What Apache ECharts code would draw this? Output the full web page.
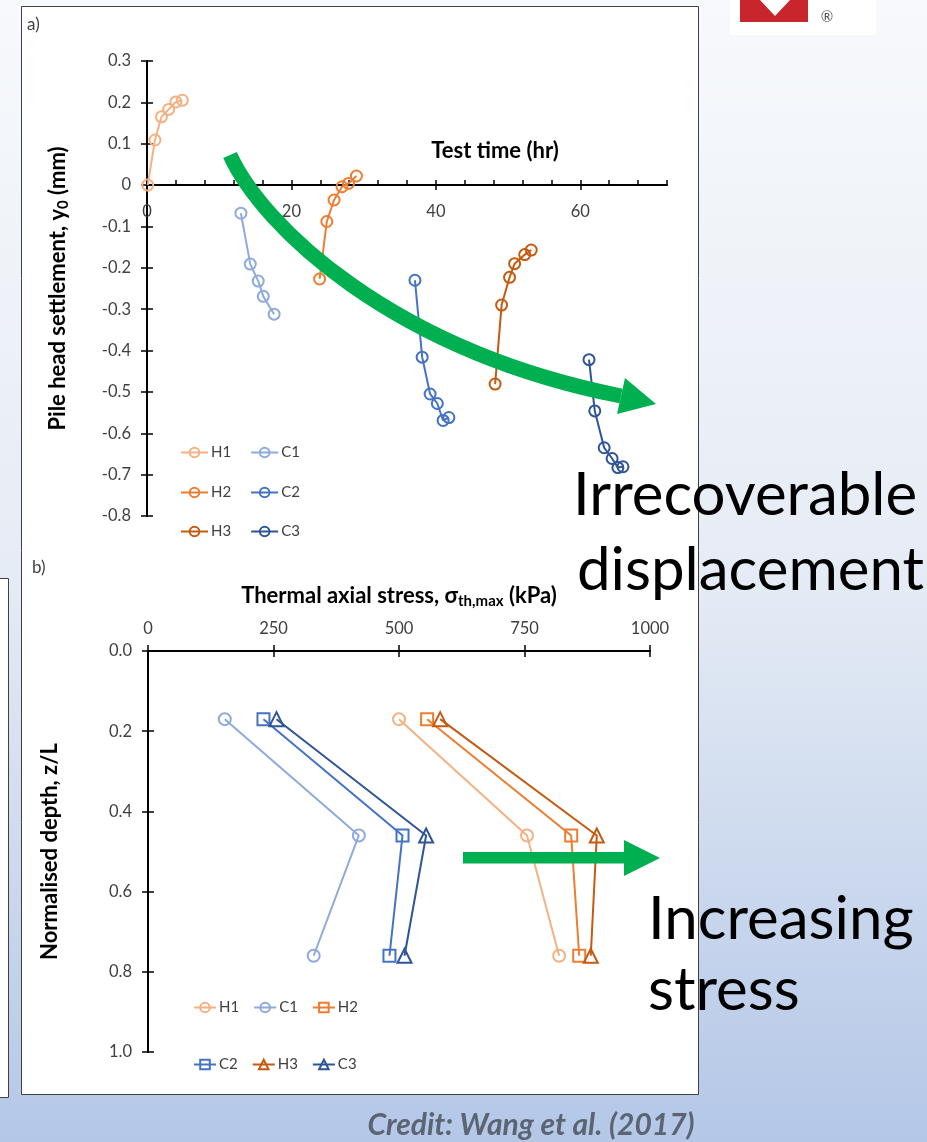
<!DOCTYPE html>
<html>
<head>
<meta charset="utf-8">
<script src="https://cdn.jsdelivr.net/npm/echarts@6/dist/echarts.min.js"></script>
<style>
html, body { margin: 0; padding: 0; }
#chart { width: 927px; height: 1142px; }
</style>
</head>
<body>
<div id="chart"></div>
<script>
// a) pile head settlement against test time
var h1Time = [0.1, 1.1, 2.0, 3.0, 4.0, 4.9];
var h1Settle = [0, 0.109, 0.165, 0.183, 0.201, 0.205];
var c1Time = [13.0, 14.3, 15.4, 16.1, 17.6];
var c1Settle = [-0.068, -0.191, -0.232, -0.269, -0.312];
var h2Time = [23.9, 24.9, 25.9, 27.0, 27.9, 29.0];
var h2Settle = [-0.227, -0.088, -0.036, -0.004, 0.004, 0.022];
var c2Time = [37.1, 38.1, 39.2, 40.2, 41.0, 41.8];
var c2Settle = [-0.23, -0.416, -0.505, -0.528, -0.569, -0.562];
var h3Time = [48.2, 49.1, 50.2, 50.9, 52.3, 53.2];
var h3Settle = [-0.481, -0.29, -0.223, -0.19, -0.168, -0.157];
var c3Time = [61.2, 62.0, 63.3, 64.4, 65.2, 65.9];
var c3Settle = [-0.422, -0.546, -0.635, -0.661, -0.683, -0.681];
var timeTicks = [0, 20, 40, 60];
var timeMinorTicks = [0, 4, 8, 12, 16, 20, 24, 28, 32, 36, 40, 44, 48, 52, 56, 60, 64, 68, 72];
var settleTicks = [-0.8, -0.7, -0.6, -0.5, -0.4, -0.3, -0.2, -0.1, 0, 0.1, 0.2, 0.3];

// b) thermal axial stress against normalised depth
var depth = [0.17, 0.46, 0.76];
var h1Stress = [500, 755, 819];
var c1Stress = [153, 420, 330];
var h2Stress = [556, 843, 859];
var c2Stress = [230, 507, 481];
var h3Stress = [582, 894, 882];
var c3Stress = [256, 554, 511];
var stressTicks = [0, 250, 500, 750, 1000];
var depthTicks = [0, 0.2, 0.4, 0.6, 0.8, 1.0];

var colH1 = '#F4B183', colC1 = '#8FAADC', colH2 = '#ED7D31',
    colC2 = '#4472C4', colH3 = '#C55A11', colC3 = '#2F5597';
var FONT = 'Lato';
var GREEN = '#00B050';

function zip(xs, ys){
    return xs.map(function(x, i){ return [x, ys[i]]; });
}
function line(name, xs, ys, color, symbol, size, grid){
    return {
        name: name,
        type: 'line',
        xAxisIndex: grid * 2,
        yAxisIndex: grid * 2,
        data: zip(xs, ys),
        symbol: symbol,
        symbolSize: size,
        lineStyle: { color: color, width: 2 },
        itemStyle: { color: 'rgba(255,255,255,0)', borderColor: color, borderWidth: 2 },
        emphasis: { disabled: true },
        z: 3
    };
}
function legend(items, left, top, w, gap){
    return {
        data: items,
        left: left, top: top,
        orient: 'horizontal',
        padding: 0,
        itemWidth: w, itemHeight: 12, itemGap: gap,
        selectedMode: false,
        formatter: function(n){ return n.slice(1); },
        textStyle: { fontFamily: FONT, fontSize: 15, color: '#404040', padding: [0, 0, 0, -2] }
    };
}
var tickStyle = { color: '#000', width: 1.5 };
var labelStyle = { fontFamily: FONT, fontSize: 16.5, color: '#404040' };
var nameStyle = {
    rich: {
        b: { fontFamily: FONT, fontSize: 22, fontWeight: 'bold', color: '#000', lineHeight: 26 },
        s: { fontFamily: FONT, fontSize: 15, fontWeight: 'bold', color: '#000', lineHeight: 26, verticalAlign: 'bottom' }
    }
};
function plain(v){ return String(v); }

var chart = echarts.init(document.getElementById('chart'));
chart.setOption({
    animation: false,
    backgroundColor: {
        type: 'linear', x: 0, y: 0, x2: 0, y2: 1,
        colorStops: [
            { offset: 0, color: '#F7F9FC' },
            { offset: 0.5, color: '#E6ECF5' },
            { offset: 1, color: '#B4C7E7' }
        ]
    },
    grid: [
        { left: 147, top: 61, width: 520, height: 455, outerBoundsMode: 'none' },
        { left: 148, top: 651, width: 502, height: 401, outerBoundsMode: 'none' }
    ],
    xAxis: [
        // time axis sits on the y = 0 line
        { gridIndex: 0, type: 'value', min: 0, max: 72, position: 'bottom', offset: -331,
          axisLine: { show: true, onZero: false, lineStyle: { color: '#000', width: 2 } },
          axisTick: { show: true, inside: false, length: 5, lineStyle: tickStyle, customValues: timeTicks },
          axisLabel: Object.assign({ margin: 18, customValues: timeTicks, formatter: plain }, labelStyle),
          splitLine: { show: false } },
        { gridIndex: 0, type: 'value', min: 0, max: 72, position: 'bottom', offset: -331,
          axisLine: { show: false, onZero: false },
          axisTick: { show: true, inside: true, length: 5, lineStyle: tickStyle, customValues: timeMinorTicks },
          axisLabel: { show: false }, splitLine: { show: false } },
        { gridIndex: 1, type: 'value', min: 0, max: 1000, position: 'top',
          name: '{b|Thermal axial stress, σ}{s|th,max}{b| (kPa)}',
          nameLocation: 'middle', nameGap: 42, nameTextStyle: nameStyle,
          axisLine: { show: true, onZero: false, lineStyle: { color: '#000', width: 2 } },
          axisTick: { show: true, inside: false, length: 6, lineStyle: tickStyle, customValues: stressTicks },
          axisLabel: Object.assign({ margin: 14, customValues: stressTicks, formatter: plain }, labelStyle),
          splitLine: { show: false } },
        { gridIndex: 1, type: 'value', min: 0, max: 1000, position: 'top',
          axisLine: { show: false, onZero: false },
          axisTick: { show: true, inside: true, length: 6, lineStyle: tickStyle, customValues: stressTicks },
          axisLabel: { show: false }, splitLine: { show: false } }
    ],
    yAxis: [
        { gridIndex: 0, type: 'value', min: -0.8, max: 0.3, position: 'left',
          name: '{b|Pile head settlement, y}{s|0}{b| (mm)}',
          nameLocation: 'middle', nameGap: 76, nameRotate: 90, nameTextStyle: nameStyle,
          axisLine: { show: true, onZero: false, lineStyle: { color: '#000', width: 2 } },
          axisTick: { show: true, inside: false, length: 6, lineStyle: tickStyle, customValues: settleTicks },
          axisLabel: Object.assign({ margin: 16, customValues: settleTicks,
              formatter: function(v){ return String(Math.round(v * 10) / 10); } }, labelStyle),
          splitLine: { show: false } },
        { gridIndex: 0, type: 'value', min: -0.8, max: 0.3, position: 'left',
          axisLine: { show: false, onZero: false },
          axisTick: { show: true, inside: true, length: 6, lineStyle: tickStyle, customValues: settleTicks },
          axisLabel: { show: false }, splitLine: { show: false } },
        { gridIndex: 1, type: 'value', min: 0, max: 1, inverse: true, position: 'left',
          name: '{b|Normalised depth, z/L}',
          nameLocation: 'middle', nameGap: 85, nameRotate: 90, nameTextStyle: nameStyle,
          axisLine: { show: true, onZero: false, lineStyle: { color: '#000', width: 2 } },
          axisTick: { show: true, inside: false, length: 6, lineStyle: tickStyle, customValues: depthTicks },
          axisLabel: Object.assign({ margin: 16, customValues: depthTicks,
              formatter: function(v){ return v.toFixed(1); } }, labelStyle),
          splitLine: { show: false } },
        { gridIndex: 1, type: 'value', min: 0, max: 1, inverse: true, position: 'left',
          axisLine: { show: false, onZero: false },
          axisTick: { show: true, inside: true, length: 6, lineStyle: tickStyle, customValues: depthTicks },
          axisLabel: { show: false }, splitLine: { show: false } }
    ],
    legend: [
        legend(['aH1', 'aC1'], 180, 445, 27, 19),
        legend(['aH2', 'aC2'], 180, 485, 27, 19),
        legend(['aH3', 'aC3'], 180, 524, 27, 19),
        legend(['bH1', 'bC1', 'bH2'], 193, 1000, 22, 14),
        legend(['bC2', 'bH3', 'bC3'], 193, 1057, 22, 14)
    ],
    series: [
        line('aH1', h1Time, h1Settle, colH1, 'circle', 11, 0),
        line('aC1', c1Time, c1Settle, colC1, 'circle', 11, 0),
        line('aH2', h2Time, h2Settle, colH2, 'circle', 11, 0),
        line('aC2', c2Time, c2Settle, colC2, 'circle', 11, 0),
        line('aH3', h3Time, h3Settle, colH3, 'circle', 11, 0),
        line('aC3', c3Time, c3Settle, colC3, 'circle', 11, 0),
        line('bH1', h1Stress, depth, colH1, 'circle', 12, 1),
        line('bC1', c1Stress, depth, colC1, 'circle', 12, 1),
        line('bH2', h2Stress, depth, colH2, 'rect', 12, 1),
        line('bC2', c2Stress, depth, colC2, 'rect', 12, 1),
        line('bH3', h3Stress, depth, colH3, 'triangle', 14, 1),
        line('bC3', c3Stress, depth, colC3, 'triangle', 14, 1)
    ],
    graphic: [
        // panels behind the plots
        { type: 'rect', z: -10, shape: { x: -2, y: 578.5, width: 10.5, height: 519 },
          style: { fill: '#fff', stroke: '#404040', lineWidth: 1 } },
        { type: 'rect', z: -10, shape: { x: 21.5, y: 6.5, width: 677, height: 1088 },
          style: { fill: '#fff', stroke: '#404040', lineWidth: 1 } },
        // logo corner
        { type: 'rect', z: -10, shape: { x: 730, y: -1, width: 146, height: 36 }, style: { fill: '#fff' } },
        { type: 'polygon', z: -9, shape: { points: [[740, 0], [760, 0], [775, 16], [790, 0], [808, 0], [808, 22], [740, 22]] },
          style: { fill: '#C8262C' } },
        { type: 'text', z: -9, x: 827, y: 17,
          style: { text: '®', fontSize: 15, fontFamily: FONT, fill: '#555', align: 'center', verticalAlign: 'middle' } },
        // panel labels
        { type: 'text', x: 27, y: 25,
          style: { text: 'a)', fontSize: 17, fontFamily: FONT, fill: '#404040', align: 'left', verticalAlign: 'middle' } },
        { type: 'text', x: 32, y: 568,
          style: { text: 'b)', fontSize: 17, fontFamily: FONT, fill: '#404040', align: 'left', verticalAlign: 'middle' } },
        { type: 'text', x: 495, y: 151,
          style: { text: 'Test time (hr)', fontSize: 22, fontWeight: 'bold', fontFamily: FONT, fill: '#000', align: 'center', verticalAlign: 'middle' } },
        // green arrows
        { type: 'bezierCurve', z: 20,
          shape: { x1: 230, y1: 155, cpx1: 262, cpy1: 225, cpx2: 390, cpy2: 350, x2: 621, y2: 396 },
          style: { stroke: GREEN, lineWidth: 15, fill: null } },
        { type: 'polygon', z: 20, shape: { points: [[625, 378], [617, 414], [656, 404]] }, style: { fill: GREEN } },
        { type: 'rect', z: 20, shape: { x: 463, y: 852, width: 162, height: 11.5 }, style: { fill: GREEN } },
        { type: 'polygon', z: 20, shape: { points: [[624, 840], [624, 876], [660, 858]] }, style: { fill: GREEN } },
        // annotations
        { type: 'text', z: 20, x: 573, y: 496,
          style: { text: 'Irrecoverable', fontSize: 60, fontFamily: FONT, fill: '#000', align: 'left', verticalAlign: 'middle' } },
        { type: 'text', z: 20, x: 577, y: 571,
          style: { text: 'displacement', fontSize: 60, fontFamily: FONT, fill: '#000', align: 'left', verticalAlign: 'middle' } },
        { type: 'text', z: 20, x: 648, y: 920,
          style: { text: 'Increasing', fontSize: 60, fontFamily: FONT, fill: '#000', align: 'left', verticalAlign: 'middle' } },
        { type: 'text', z: 20, x: 648, y: 991,
          style: { text: 'stress', fontSize: 60, fontFamily: FONT, fill: '#000', align: 'left', verticalAlign: 'middle' } },
        { type: 'text', z: 20, x: 531, y: 1125,
          style: { text: 'Credit: Wang et al. (2017)', fontSize: 30, fontWeight: 'bold', fontStyle: 'italic',
                   fontFamily: FONT, fill: '#5B6472', align: 'center', verticalAlign: 'middle' } }
    ]
});
</script>
</body>
</html>
